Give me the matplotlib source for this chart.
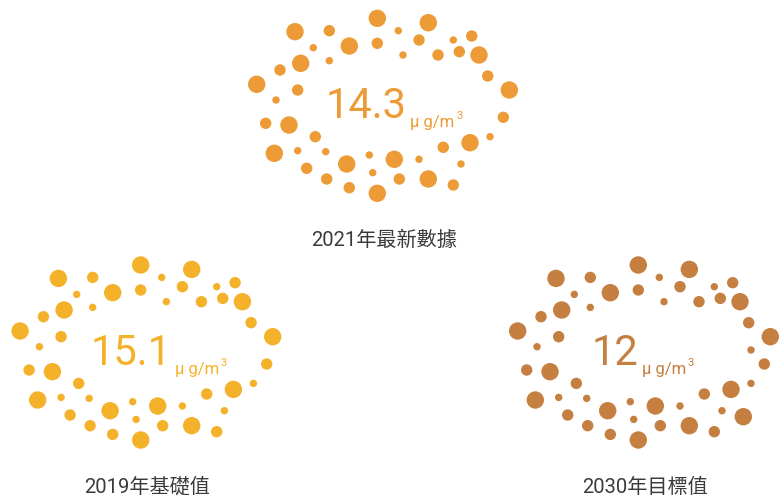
import matplotlib.pyplot as plt

# данные
values = [14.3, 15.1, 12]
labels = ['2021年最新數據', '2019年基礎值', '2030年目標值']
colors = ['#EC9B36', '#F4B22B', '#C57F40']

# узор из точек вокруг числа (смещения от центра группы, px) и радиусы
pat_x = [-5.7, 45.3, -88, -53.7, 15.3, 88.7, 70.3, 36, -5.7, -33.7, -69.7, 76.3, 96, 55, 20, -53.7,
         -82.3, -103, 104.7, -126.3, 126.3, -85.3, -107, 120.3, -117.3, -94, 107, -67.7, 87, 60.3,
         -108.7, -85.3, -57.3, -13.7, 11.3, 36, -36.3, 78, -76.3, -10.3, 16.3, 45.3, -56.3, -33.7,
         70.3, -5.7]
pat_y = [-86.7, -82.3, -73.3, -74.3, -74.3, -69, -65, -65, -61.7, -59, -57.3, -53.3, -50, -50, -50,
         -44.3, -41.7, -35, -29, -20.7, -15, -15, -5, 12.3, 18.3, 20, 31.7, 31.7, 37.7, 42.3, 48.3,
         45.7, 46.7, 50, 54.3, 54.3, 59, 59, 63.3, 67.7, 74, 74, 74, 82.7, 80, 88.3]
pat_r = [8.7, 8.7, 8.7, 5.7, 3.7, 5.7, 3.7, 5.7, 5.7, 8.7, 3.7, 5.7, 8.7, 5.7, 3.7, 3.7,
         8.7, 5.7, 5.7, 8.7, 8.7, 5.7, 3.7, 5.7, 5.7, 8.7, 3.7, 5.7, 8.7, 5.7,
         8.7, 3.7, 3.7, 3.7, 8.7, 3.7, 8.7, 3.7, 5.7, 3.7, 5.7, 8.7, 5.7, 5.7,
         5.7, 8.7]
# у третьей группы две лишние точки
extra_x = [107, 99.3]
extra_y = [-1.7, 65]
extra_r = [3.7, 8.7]

W, H = 784, 497
centers = [(383, 105), (146.4, 351.7), (644, 351.7)]
num_dx = [-57, -56, -52]
label_y = [240, 487, 487]

fig = plt.figure(figsize=(W / 100, H / 100), dpi=100)
ax = fig.add_axes([0, 0, 1, 1])
ax.set_xlim(0, W)
ax.set_ylim(H, 0)
ax.axis('off')

for i in range(len(values)):
    cx, cy = centers[i]
    xs = [cx + x for x in pat_x]
    ys = [cy + y for y in pat_y]
    rs = list(pat_r)
    if i == 2:
        xs += [cx + x for x in extra_x]
        ys += [cy + y for y in extra_y]
        rs += extra_r
    sizes = [(2 * r * 0.72) ** 2 for r in rs]
    ax.scatter(xs, ys, s=sizes, color=colors[i], linewidths=0)

    # число и единицы измерения
    num = ax.text(cx + num_dx[i], cy + 13.3, f'{values[i]:g}', color=colors[i],
                  fontsize=30, family='Roboto', ha='left', va='baseline')
    unit = ax.annotate('μ g/m', xy=(1, 0), xycoords=num, xytext=(2.5, 0), textcoords='offset points',
                       color=colors[i], fontsize=12, family='Roboto', ha='left', va='baseline')
    ax.annotate('3', xy=(1, 1), xycoords=unit, xytext=(1, -3), textcoords='offset points',
                color=colors[i], fontsize=8, family='Roboto', ha='left', va='baseline')

    ax.text(cx + 1, label_y[i], labels[i], color='#3a3a3a', fontsize=14.5,
            family=['Roboto', 'Noto Sans CJK TC'], ha='center', va='center')

fig.savefig('out.png', dpi=100)
